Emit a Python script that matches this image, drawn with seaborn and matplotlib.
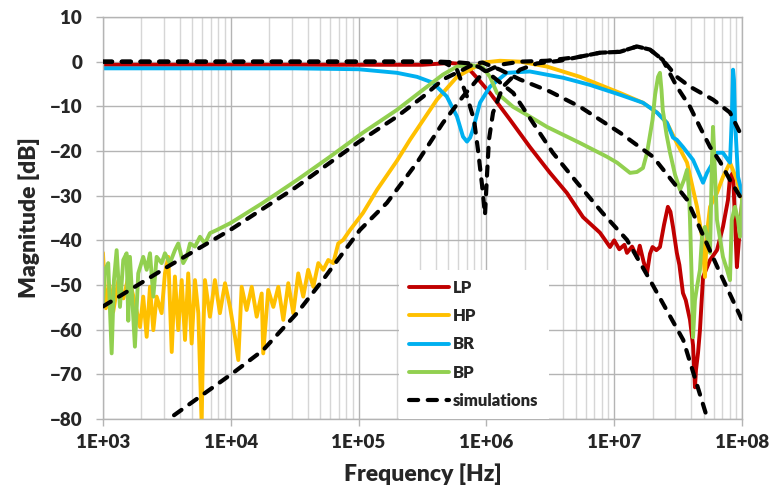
import numpy as np
import pandas as pd
import matplotlib
matplotlib.use("Agg")
import matplotlib.pyplot as plt
import seaborn as sns
from matplotlib.ticker import LogLocator, NullFormatter

# ---------------- data (log10 of frequency in Hz, magnitude in dB) ----------------
lp_logf = [3.0, 4.0, 5.0, 5.5, 5.715, 5.83, 5.926, 6.028, 6.185, 6.34, 6.498, 6.63, 6.756, 6.889,
           6.967, 7.0, 7.04, 7.08, 7.1, 7.14, 7.18, 7.2, 7.23, 7.257, 7.28, 7.3, 7.33, 7.358, 7.39,
           7.42, 7.44, 7.46, 7.49, 7.51, 7.538, 7.56, 7.593, 7.617, 7.632, 7.64, 7.656, 7.671, 7.695,
           7.75, 7.804, 7.851, 7.89, 7.906, 7.93, 7.945, 7.96, 7.976, 8.0]
lp_db = [-0.7, -0.7, -0.7, -0.7, -0.3, -0.6, -3.6, -7.0, -13.0, -19.1, -24.9, -29.4, -34.8, -38.3,
         -41.5, -40.0, -42.0, -41.0, -42.8, -41.4, -43.9, -41.2, -44.8, -47.3, -43.0, -41.5, -42.2, -41.5, -36.5,
         -32.5, -33.6, -37.0, -42.8, -45.5, -51.8, -53.4, -57.8, -63.5, -72.9, -69.0, -65.2, -60.1, -48.2,
         -44.4, -42.2, -37.0, -31.0, -25.8, -24.9, -35.4, -46.0, -40.0, -31.6]

hp_logf = [3.0, 3.023, 3.05, 3.08, 3.12, 3.16, 3.2, 3.25, 3.29, 3.315, 3.342, 3.368, 3.394, 3.42,
           3.459, 3.485, 3.511, 3.538, 3.563, 3.589, 3.616, 3.642, 3.667, 3.694, 3.72, 3.746, 3.772,
           3.785, 3.798, 3.837, 3.876, 3.915, 3.955, 3.994, 4.033, 4.059, 4.085, 4.124, 4.164, 4.203,
           4.242, 4.254, 4.293, 4.333, 4.372, 4.411, 4.45, 4.489, 4.528, 4.567, 4.606, 4.646, 4.685,
           4.724, 4.763, 4.802, 4.841, 4.88, 4.933, 5.034, 5.144, 5.3, 5.402, 5.613, 5.77, 5.87, 5.973,
           6.106, 6.263, 6.474, 6.732, 7.045, 7.225, 7.335, 7.413, 7.49, 7.57, 7.648, 7.687, 7.71,
           7.726, 7.75, 7.804, 7.851, 7.906, 7.96, 8.0]
hp_db = [-42.8, -55.2, -50.0, -56.0, -49.0, -53.0, -48.0, -54.0, -59.4, -52.6, -61.6, -50.4, -60.1, -52.6,
         -56.3, -47.4, -43.7, -65.0, -48.1, -60.1, -48.9, -62.3, -47.4, -63.1, -48.9, -56.3, -81.0,
         -60.1, -48.9, -57.1, -48.9, -56.3, -49.6, -54.9, -61.6, -66.8, -50.4, -55.6, -50.4, -57.1,
         -51.9, -65.3, -51.1, -54.9, -50.4, -57.8, -49.6, -56.3, -47.4, -52.6, -46.6, -50.4, -45.1,
         -46.6, -44.4, -45.1, -40.7, -39.9, -37.7, -33.9, -28.7, -22.2, -17.5, -8.5, -3.4, -1.8, -0.2,
         0.2, 0.0, -1.1, -3.4, -7.0, -9.2, -11.4, -13.7, -18.2, -22.6, -32.5, -39.2, -48.2,
         -38.3, -32.5, -29.4, -25.8, -22.6, -26.5, -30.9]

br_logf = [3.0, 4.0, 4.5, 5.0, 5.3, 5.457, 5.58, 5.69, 5.77, 5.817, 5.848, 5.873, 5.895, 5.95, 6.028,
           6.16, 6.34, 6.6, 6.81, 7.045, 7.225, 7.335, 7.413, 7.46, 7.49, 7.538, 7.617, 7.695, 7.726,
           7.773, 7.804, 7.851, 7.89, 7.906, 7.92, 7.93, 7.937, 7.945, 7.969, 8.0]
br_db = [-1.5, -1.5, -1.5, -1.7, -2.5, -3.4, -4.7, -7.8, -12.3, -16.8, -17.9, -17.0, -15.2, -9.2, -5.6,
         -2.5, -2.2, -3.6, -5.2, -7.4, -9.2, -11.4, -13.7, -17.0, -17.5, -19.1, -22.0, -27.1, -24.9,
         -22.6, -20.4, -20.4, -22.0, -22.6, -13.0, -1.8, -4.0, -13.0, -25.8, -29.4]

bp_logf = [3.0, 3.016, 3.041, 3.068, 3.086, 3.107, 3.133, 3.159, 3.185, 3.198, 3.211, 3.25, 3.276,
           3.315, 3.342, 3.368, 3.394, 3.42, 3.459, 3.485, 3.524, 3.563, 3.589, 3.628, 3.655, 3.681,
           3.72, 3.759, 3.798, 3.837, 3.89, 4.0, 4.252, 4.518, 4.776, 5.034, 5.3, 5.504, 5.66, 5.77,
           5.87, 5.973, 6.028, 6.083, 6.208, 6.34, 6.474, 6.732, 6.944, 7.022, 7.124, 7.178, 7.225,
           7.257, 7.3, 7.32, 7.343, 7.358, 7.37, 7.38, 7.41, 7.437, 7.476, 7.515, 7.546, 7.57, 7.585,
           7.593, 7.609, 7.617, 7.632, 7.648, 7.671, 7.687, 7.71, 7.734, 7.75, 7.765, 7.773, 7.781,
           7.804, 7.851, 7.883, 7.906, 7.92, 7.945, 7.969, 7.984, 8.0]
bp_db = [-54.1, -46.6, -45.1, -65.3, -48.9, -42.2, -54.9, -44.4, -42.9, -58.0, -43.7, -63.8, -47.4,
         -43.7, -46.6, -42.9, -52.6, -43.7, -45.1, -42.9, -45.1, -42.2, -40.7, -45.1, -43.7, -40.7,
         -41.4, -39.2, -40.7, -38.4, -37.7, -36.1, -31.6, -26.5, -21.3, -15.9, -10.8, -6.3, -2.9, -1.1,
         -0.7, -1.3, -3.4, -7.0, -10.1, -12.3, -14.6, -18.2, -21.3, -22.6, -24.9, -24.7, -23.8,
         -20.4, -13.0, -7.4, -3.4, -2.5, -6.3, -10.8, -16.4, -20.4, -25.3, -28.7, -26.5, -24.2, -28.7,
         -35.4, -51.1, -61.7, -53.4, -50.4, -46.6, -39.2, -37.0, -39.9, -42.8, -21.9, -14.6, -19.7,
         -35.4, -43.7, -46.6, -48.9, -35.4, -32.5, -35.4, -39.2, -30.9]

# simulations
sim_lp_logf = [3.0, 5.637, 5.793, 5.87, 5.95, 6.03, 6.21, 6.365, 6.52, 6.71, 6.91, 7.1, 7.28, 7.54, 7.726, 7.74]
sim_lp_db = [0.0, 0.0, -0.2, -0.4, -1.3, -2.9, -7.0, -13.7, -20.4, -27.1, -33.9, -39.9, -48.9, -62.3, -79.6, -82.0]

sim_hp_logf = [3.45, 3.5, 4.017, 4.252, 4.518, 4.72, 5.01, 5.222, 5.457, 5.66, 5.817, 5.973, 6.106,
               6.263, 6.474, 6.732, 6.889, 7.045, 7.178, 7.28, 7.38, 7.49, 7.593, 7.773, 7.906, 8.0]
sim_hp_db = [-82.0, -80.3, -69.7, -64.6, -56.3, -48.9, -37.7, -31.6, -22.6, -13.7, -7.8, -2.5, -0.7,
             0.0, 0.2, 1.1, 2.0, 2.2, 3.4, 2.7, 0.4, -3.4, -5.6, -8.5, -11.4, -16.8]

sim_br_logf = [3.0, 5.56, 5.676, 5.77, 5.848, 5.903, 5.934, 5.966, 5.989, 6.005, 6.02, 6.052, 6.13,
               6.263, 6.396, 6.576, 6.889, 7.045, 7.178, 7.28, 7.38, 7.49, 7.593, 7.67, 7.75, 7.828, 7.906, 8.0]
sim_br_db = [0.0, 0.0, -0.3, -1.8, -7.8, -13.0, -19.7, -27.6, -34.3, -25.3, -17.5, -11.4, -5.6,
             -1.8, -0.4, 0.2, 2.0, 2.2, 3.4, 2.7, 0.4, -5.6, -10.1, -14.6, -19.1, -22.4, -26.5, -30.9]

sim_bp_logf = [3.0, 3.5, 4.0, 4.5, 5.0, 5.3, 5.504, 5.66, 5.817, 5.91, 5.97, 6.03, 6.106, 6.263,
               6.498, 6.732, 7.045, 7.304, 7.57, 7.828, 8.0]
sim_bp_db = [-54.8, -46.0, -37.6, -28.3, -18.0, -12.3, -7.85, -4.0, -1.8, -0.4, -0.2, -0.9, -1.8, -4.0,
             -6.7, -10.1, -15.9, -21.3, -30.9, -47.3, -57.8]

legend_labels = ["LP", "HP", "BR", "BP", "simulations"]
colors = ["#C00000", "#FFC000", "#00B0F0", "#92D050", "#000000"]
xtick_labels = ["1E+03", "1E+04", "1E+05", "1E+06", "1E+07", "1E+08"]

# ---------------- styling ----------------
sns.set_style("white")
plt.rcParams["font.family"] = ["Lato", "DejaVu Sans"]
plt.rcParams["font.weight"] = "heavy"

fig = plt.figure(figsize=(7.73, 4.95), dpi=100)
ax = fig.add_axes([0.1332, 0.1535, 0.8267, 0.8122])

handles = []


def draw(logf, db, color, label, dashed=False, z=2):
    df = pd.DataFrame({"freq": np.power(10.0, np.array(logf)), "db": db})
    kw = dict(data=df, x="freq", y="db", color=color, linewidth=2.8, ax=ax,
              estimator=None, sort=False, legend=False, zorder=z, label=label)
    if dashed:
        kw["linewidth"] = 3.0
        kw["linestyle"] = (0, (2.2, 2.3))
        kw["dash_capstyle"] = "round"
    sns.lineplot(**kw)
    return ax.lines[-1]


handles.append(draw(lp_logf, lp_db, colors[0], legend_labels[0]))
handles.append(draw(hp_logf, hp_db, colors[1], legend_labels[1]))
handles.append(draw(br_logf, br_db, colors[2], legend_labels[2]))
handles.append(draw(bp_logf, bp_db, colors[3], legend_labels[3]))
h = draw(sim_lp_logf, sim_lp_db, colors[4], legend_labels[4], dashed=True, z=3)
draw(sim_hp_logf, sim_hp_db, colors[4], "_nolegend_", dashed=True, z=3)
draw(sim_br_logf, sim_br_db, colors[4], "_nolegend_", dashed=True, z=3)
draw(sim_bp_logf, sim_bp_db, colors[4], "_nolegend_", dashed=True, z=3)
handles.append(h)

ax.set_xscale("log")
ax.set_xlim(1e3, 1e8)
ax.set_ylim(-80, 10)
ax.set_xticks([1e3, 1e4, 1e5, 1e6, 1e7, 1e8])
ax.set_xticklabels(xtick_labels)
ax.xaxis.set_minor_locator(LogLocator(base=10, subs=np.arange(2, 10)))
ax.xaxis.set_minor_formatter(NullFormatter())
ax.set_yticks(np.arange(-80, 11, 10))
ax.set_axisbelow(True)
ax.grid(which="major", color="#B4B4B4", linewidth=1.0)
ax.grid(which="minor", axis="x", color="#D6D6D6", linewidth=1.0)
ax.tick_params(axis="both", which="major", length=5, width=1, color="#B4B4B4",
               labelsize=13.5, bottom=True, left=True, direction="out")
ax.tick_params(axis="y", which="major", pad=10)
ax.tick_params(axis="x", which="major", pad=6)
ax.tick_params(which="minor", length=0)
for s in ax.spines.values():
    s.set_color("#B4B4B4")
    s.set_linewidth(1.0)

ax.set_xlabel("Frequency [Hz]", fontsize=16.5, fontweight="heavy", labelpad=9)
ax.set_ylabel("Magnitude [dB]", fontsize=16.5, fontweight="heavy", labelpad=7)

leg = ax.legend(handles, legend_labels, loc="lower left", bbox_to_anchor=(0.463, 0.0),
                frameon=True, prop=dict(weight="heavy", size=12), labelspacing=0.74,
                handlelength=2.4, handletextpad=0.25, borderpad=0.6, borderaxespad=0,
                fancybox=False)
leg.get_frame().set_edgecolor("none")
leg.get_frame().set_facecolor("white")
leg.get_frame().set_alpha(1.0)

fig.savefig("out.png", dpi=100)
